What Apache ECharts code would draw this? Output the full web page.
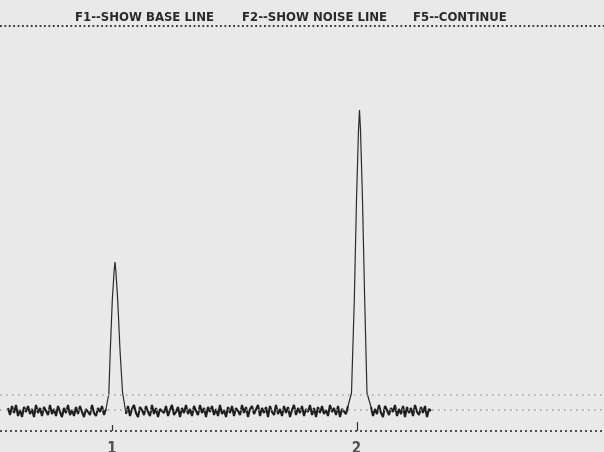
<!DOCTYPE html>
<html><head><meta charset="utf-8">
<script src="https://cdn.jsdelivr.net/npm/echarts@6/dist/echarts.min.js"></script>
<style>html,body{margin:0;padding:0;background:#e9e9e9}#c{width:604px;height:452px}</style>
</head><body><div id="c"></div>
<script>
// ---- data (x = time units, y = detector signal units) ----
const headerLabels = ['F1--SHOW BASE LINE', 'F2--SHOW NOISE LINE', 'F5--CONTINUE'];
const baseLineLevel = 42;
const noiseLineLevel = 57;
const lowerLineLevel = 21;
const topLineLevel = 426.5;
const sampleStep = 2;
const noiseAStart = 8;
const noiseA = [44,37,46,39,47,36,42,35,45,40, 46,38,43,35,47,39,44,36,45,41, 37,47,38,43,36,46,40,35,44,39, 47,37,42,36,45,38,46,40,35,43, 45,37,47,39,36,44,40,46,37,43];
const noiseBStart = 126;
const noiseB = [38,46,36,43,47,39,35,45,42,37,46,40,36,47,38,44,35,43,45,
  39,46,36,42,47,37,40,45,35,44,39,47,38,43,36,46,41,37,47,
  39,44,35,45,40,46,37,43,36,47,38,42,35,45,39,46,36,44,41,
  37,47,39,45,35,43,46,38,40,47,36,44,39,45,35,46,40,37,47,
  38,43,36,46,39,45,35,42,47,37,44,39,46,36,43,40,47,37,44,
  35,45,39,46,38,42,36,47,40,44,37,46,35,43,45,38,46];
const noiseCStart = 371;
const noiseC = [45,36,43,38,47,39,35,46,42,37,44,40,47,36,43,38,46,35,45,39,44,36,47,40,37,45,39,46,35,43,41];
const peak1Time = [106,108.8,110.3,112.3,114.2,115,115.8,117.7,120,122.5,126];
const peak1Signal = [43,58,102,152,182,190,182,152,102,60,38];
const peak2Time = [348,351.5,354.3,356.5,358.5,359.5,360.5,362.5,364.7,367,371];
const peak2Signal = [46,59,152,252,322,342,322,252,152,59,45];
const peakNames = ['1', '2'];

// ---- build ----
function seg(start, vals) { return vals.map((v, i) => [start + i * sampleStep, v]); }
function zip(t, s) { return t.map((x, i) => [x, s[i]]); }
const noiseTrace = [].concat(seg(noiseAStart, noiseA), [[110, null]],
  seg(noiseBStart, noiseB), [[360, null]], seg(noiseCStart, noiseC));
function apex(t, s) { let k = 0; s.forEach((v, i) => { if (v > s[k]) k = i; }); return t[k]; }
const apexes = [apex(peak1Time, peak1Signal), apex(peak2Time, peak2Signal)];

const font = '"DejaVu Sans Condensed", sans-serif';
const headFont = 'bold 13px ' + font;
const chart = echarts.init(document.getElementById('c'), null, {renderer: 'canvas'});
const guide = (y, color, width, dash) => ({yAxis: y, lineStyle: {color, width, type: dash}});
const peakSeries = (t, s) => ({
  type: 'line', data: zip(t, s), showSymbol: false, symbol: 'none', silent: true,
  lineStyle: {color: '#2a2a2a', width: 1.2}
});
chart.setOption({
  animation: false,
  backgroundColor: '#e9e9e9',
  grid: {left: 0, right: 0, top: 0, bottom: 0},
  xAxis: {type: 'value', min: 0, max: 604, show: false},
  yAxis: {type: 'value', min: 0, max: 452, show: false},
  graphic: [
    {type: 'text', left: 75, top: 11, style: {text: headerLabels[0], font: headFont, fill: '#2a2a2a'}},
    {type: 'text', left: 242, top: 11, style: {text: headerLabels[1], font: headFont, fill: '#2a2a2a'}},
    {type: 'text', left: 413, top: 11, style: {text: headerLabels[2], font: headFont, fill: '#2a2a2a'}}
  ],
  series: [
    {
      type: 'line', data: [], silent: true,
      markLine: {
        symbol: 'none', silent: true, label: {show: false},
        data: [
          guide(topLineLevel, '#3a3a3a', 1.8, [1.8, 2.6]),
          guide(noiseLineLevel, '#a8a8a8', 1.6, [1.6, 4.4]),
          guide(baseLineLevel, '#a0a0a0', 1.6, [1.6, 4.4]),
          guide(lowerLineLevel, '#505050', 2, [2, 3]),
          [{coord: [apexes[0] - 3, lowerLineLevel], lineStyle: {color: '#333', width: 1.2, type: 'solid'}}, {coord: [apexes[0] - 3, lowerLineLevel + 6]}],
          [{coord: [apexes[1] - 2, lowerLineLevel], lineStyle: {color: '#333', width: 1.2, type: 'solid'}}, {coord: [apexes[1] - 2, lowerLineLevel + 9]}]
        ]
      }
    },
    {
      type: 'line', data: noiseTrace, showSymbol: false, symbol: 'none', silent: true, connectNulls: false,
      lineStyle: {color: '#1e1e1e', width: 2.1}
    },
    peakSeries(peak1Time, peak1Signal),
    peakSeries(peak2Time, peak2Signal),
    {
      type: 'scatter', symbolSize: 0, silent: true,
      data: apexes.map((x, i) => ({value: [x - 3, 3], name: peakNames[i]})),
      label: {show: true, position: 'inside', formatter: p => p.name, fontFamily: font, fontSize: 15, fontWeight: 'bold', color: '#2a2a2a'}
    }
  ]
});
</script></body></html>
